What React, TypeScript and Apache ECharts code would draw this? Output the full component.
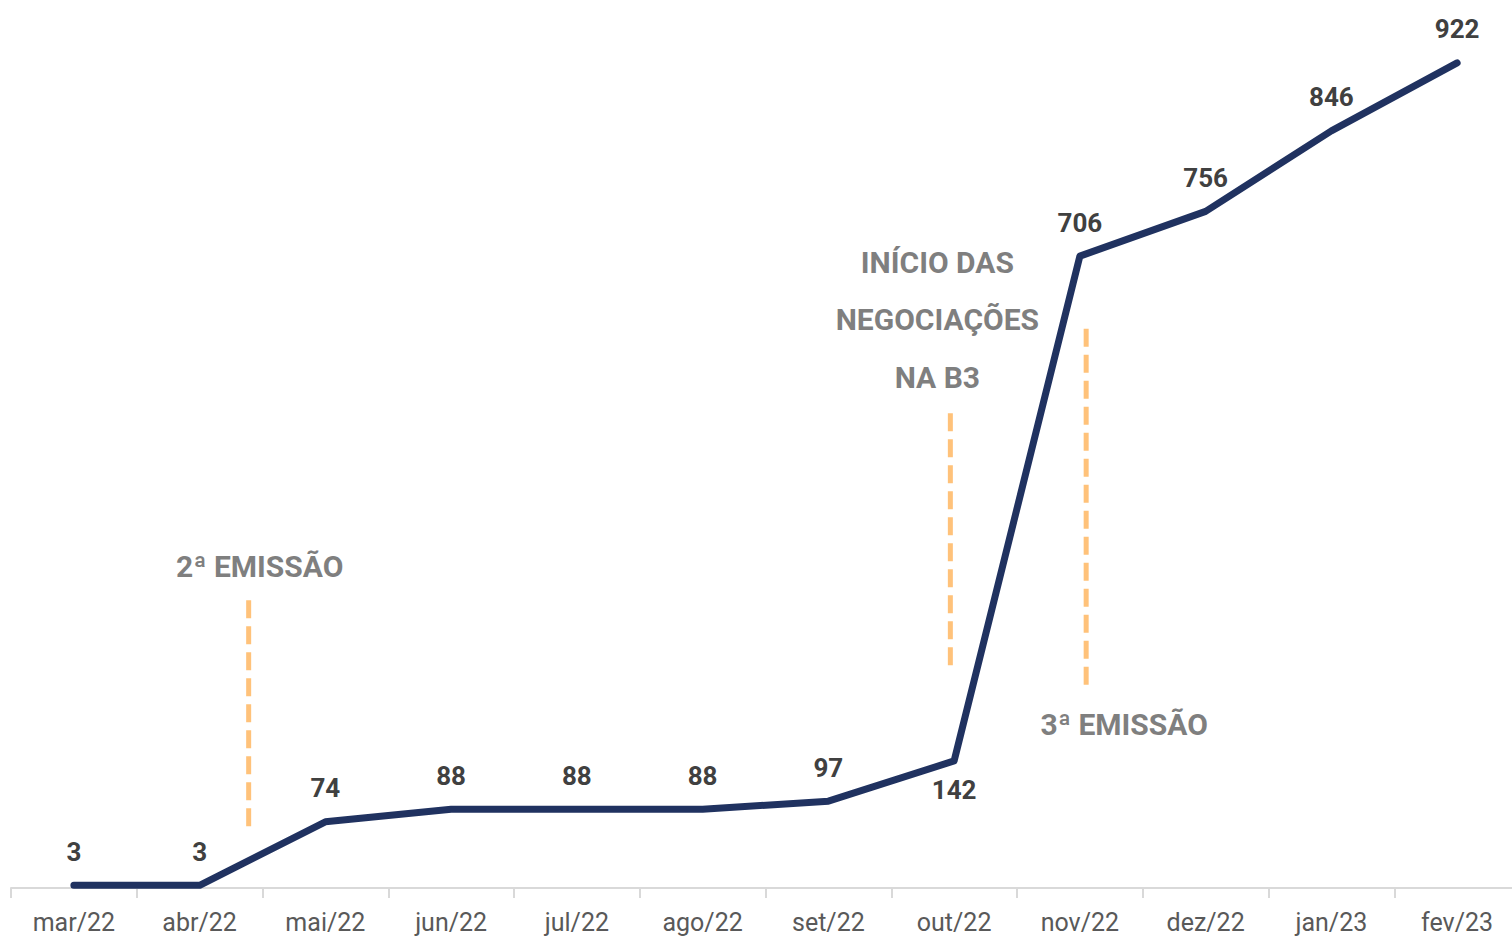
import React, { useEffect, useRef } from "react";
import * as echarts from "echarts";

const categories = ["mar/22", "abr/22", "mai/22", "jun/22", "jul/22", "ago/22", "set/22", "out/22", "nov/22", "dez/22", "jan/23", "fev/23"];
const values = [3, 3, 74, 88, 88, 88, 97, 142, 706, 756, 846, 922];
const belowLabelIndex = [7];

// Event markers: position on category index scale, y range (value units), text
const markerPositions = [1.39, 6.97, 8.05];
const markerRanges = [[69, 326], [249, 536], [227, 631]];
const markerTexts = ["2ª EMISSÃO", "INÍCIO DAS\nNEGOCIAÇÕES\nNA B3", "3ª EMISSÃO"];

export default function App() {
  const ref = useRef<HTMLDivElement>(null);
  useEffect(() => {
    if (!ref.current) return;
    const chart = echarts.init(ref.current, undefined, { renderer: "svg" });
    const labelStyles = [
      { position: "top", distance: 12, offset: [11, 0], lineHeight: 34 },
      { position: "top", distance: 2, offset: [-13, 0], lineHeight: 57.5 },
      { position: "bottom", distance: 22, offset: [38, 0], lineHeight: 34 },
    ];
    const markerSeries = markerPositions.map((x, i) => ({
      type: "line",
      xAxisIndex: 1,
      yAxisIndex: 0,
      symbol: "circle",
      symbolSize: 1,
      showSymbol: true,
      itemStyle: { color: "rgba(0,0,0,0)" },
      silent: true,
      z: 1,
      lineStyle: { color: "#FFC27A", width: 5, type: [18, 8] },
      data: [
        {
          value: [x, markerRanges[i][0]],
          label: { show: i === 2 },
        },
        {
          value: [x, markerRanges[i][1]],
          label: { show: i !== 2 },
        },
      ],
      label: {
        show: false,
        formatter: () => markerTexts[i],
        position: labelStyles[i].position,
        distance: labelStyles[i].distance,
        offset: labelStyles[i].offset,
        lineHeight: labelStyles[i].lineHeight,
        color: "#7f7f7f",
        fontFamily: "Roboto",
        fontWeight: "bold",
        fontSize: 30,
        align: "center",
      },
    }));
    chart.setOption({
      animation: false,
      grid: { left: 11, width: 1509, top: 2, height: 886, outerBoundsMode: "none", containLabel: false },
      xAxis: [
        {
          type: "category",
          data: categories,
          boundaryGap: true,
          axisLine: { lineStyle: { color: "#d9d9d9", width: 2 } },
          axisTick: { show: true, length: 10, lineStyle: { color: "#d9d9d9", width: 2 } },
          axisLabel: { color: "#595959", fontSize: 25, fontFamily: "Roboto", margin: 22 },
        },
        { type: "value", min: -0.5, max: 11.5, show: false },
      ],
      yAxis: { type: "value", min: 0, max: 990, show: false },
      series: [
        {
          type: "line",
          data: values.map((v, i) => ({
            value: v,
            label: belowLabelIndex.includes(i) ? { position: "bottom", distance: 16 } : undefined,
          })),
          symbol: "circle",
          symbolSize: 1,
          showSymbol: true,
          itemStyle: { color: "rgba(0,0,0,0)" },
          z: 3,
          lineStyle: { color: "#203260", width: 7, cap: "round", join: "round" },
          label: {
            show: true,
            position: "top",
            distance: 20,
            color: "#404040",
            fontFamily: "Roboto",
            fontWeight: "bold",
            fontSize: 26,
          },
        },
        ...markerSeries,
      ],
    });
    return () => chart.dispose();
  }, []);
  return (
    <div
      ref={ref}
      style={{ position: "fixed", left: 0, top: 0, width: 1512, height: 937, background: "#fff" }}
    />
  );
}
